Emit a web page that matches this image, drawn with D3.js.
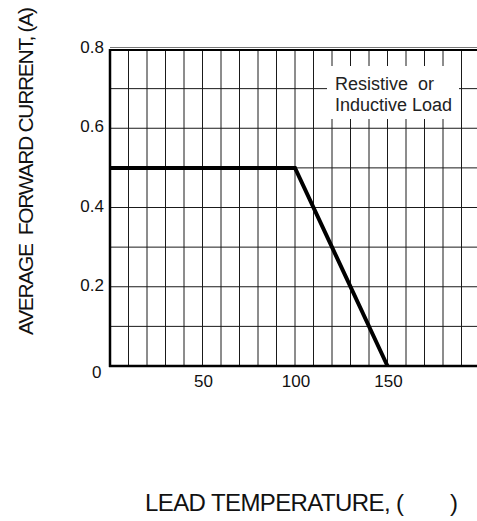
<!DOCTYPE html>
<html><head><meta charset="utf-8">
<script src="https://cdn.jsdelivr.net/npm/d3@7"></script>
<style>html,body{margin:0;padding:0;background:#fff;overflow:hidden}</style>
</head><body><svg id="c" width="477" height="521"></svg>
<script>
// ---- data ----
const temperature = [0, 100, 150];
const current = [0.5, 0.5, 0];
const xTickValues = [50, 100, 150];
const xTickLabels = ["50", "100", "150"];
const yTickValues = [0, 0.2, 0.4, 0.6, 0.8];
const yTickLabels = ["0", "0.2", "0.4", "0.6", "0.8"];
const noteLines = ["Resistive  or", "Inductive Load"];
const xTitleMain = "LEAD TEMPERATURE, (";
const xTitleEnd = ")";
const yTitle = "AVERAGE  FORWARD CURRENT, (A)";

// ---- layout ----
const FONT = "'Liberation Sans', Arial, Helvetica, sans-serif";
const svg = d3.select("#c");
const x = d3.scaleLinear().domain([0, 200]).range([110, 480]);
const y = d3.scaleLinear().domain([0, 0.8]).range([366, 49]);

// grid
const g = svg.append("g");
g.selectAll("line.v").data(x.ticks(20).filter(d => d > 0 && d < 200)).enter()
  .append("line").attr("class", "v")
  .attr("x1", d => x(d)).attr("x2", d => x(d))
  .attr("y1", y(0.8)).attr("y2", y(0))
  .attr("stroke", "#1a1a1a").attr("stroke-width", 1);
g.selectAll("line.h").data(y.ticks(8).filter(d => d > 0 && d < 0.8)).enter()
  .append("line").attr("class", "h")
  .attr("x1", x(0)).attr("x2", x(200))
  .attr("y1", d => y(d)).attr("y2", d => y(d))
  .attr("stroke", "#1a1a1a").attr("stroke-width", 1);

// frame
g.append("line").attr("x1", x(0)).attr("x2", x(200)).attr("y1", y(0.8) - 1.5).attr("y2", y(0.8) - 1.5)
  .attr("stroke", "#777").attr("stroke-width", 1);
g.append("line").attr("x1", x(0) - 1).attr("x2", x(200)).attr("y1", y(0.8) + 1).attr("y2", y(0.8) + 1)
  .attr("stroke", "#000").attr("stroke-width", 2);
g.append("line").attr("x1", x(0)).attr("x2", x(0)).attr("y1", y(0.8)).attr("y2", y(0) + 1)
  .attr("stroke", "#000").attr("stroke-width", 2.5);
g.append("line").attr("x1", x(0) - 1).attr("x2", x(200)).attr("y1", y(0)).attr("y2", y(0))
  .attr("stroke", "#000").attr("stroke-width", 2.5);

// note box
const nb = svg.append("g");
nb.append("rect").attr("x", 327).attr("y", 66).attr("width", 132).attr("height", 53).attr("fill", "#fff");
nb.selectAll("text").data(noteLines).enter().append("text")
  .attr("x", 335).attr("y", (d, i) => 90 + i * 21)
  .attr("font-family", FONT).attr("font-size", 18).attr("fill", "#222")
  .style("white-space", "pre").text(d => d);

// data line
const pts = temperature.map((t, i) => [t, current[i]]);
svg.append("path").datum(pts)
  .attr("d", d3.line().x(d => x(d[0])).y(d => y(d[1])))
  .attr("fill", "none").attr("stroke", "#000").attr("stroke-width", 4)
  .attr("stroke-linejoin", "miter");

// tick labels
svg.selectAll("text.yt").data(yTickValues).enter().append("text").attr("class", "yt")
  .attr("x", d => d === 0 ? 101.5 : 104)
  .attr("y", d => y(d) + (d === 0 ? 11.5 : 4))
  .attr("text-anchor", "end").attr("font-family", FONT).attr("font-size", 17).attr("fill", "#111")
  .text((d, i) => yTickLabels[i]);
svg.selectAll("text.xt").data(xTickValues).enter().append("text").attr("class", "xt")
  .attr("x", d => x(d) + 1).attr("y", 387)
  .attr("text-anchor", "middle").attr("font-family", FONT).attr("font-size", 17).attr("fill", "#111")
  .text((d, i) => xTickLabels[i]);

// axis titles
const xt = svg.append("text").attr("x", 145).attr("y", 511)
  .attr("font-family", FONT).attr("font-size", 24).attr("fill", "#111")
  .attr("letter-spacing", -0.6);
xt.append("tspan").text(xTitleMain);
xt.append("tspan").attr("x", 450).text(xTitleEnd);

svg.append("text").attr("transform", "translate(33,171) rotate(-90)")
  .attr("text-anchor", "middle").attr("font-family", FONT).attr("font-size", 21).attr("fill", "#111")
  .attr("textLength", 328).attr("lengthAdjust", "spacing")
  .style("white-space", "pre").text(yTitle);
</script></body></html>
